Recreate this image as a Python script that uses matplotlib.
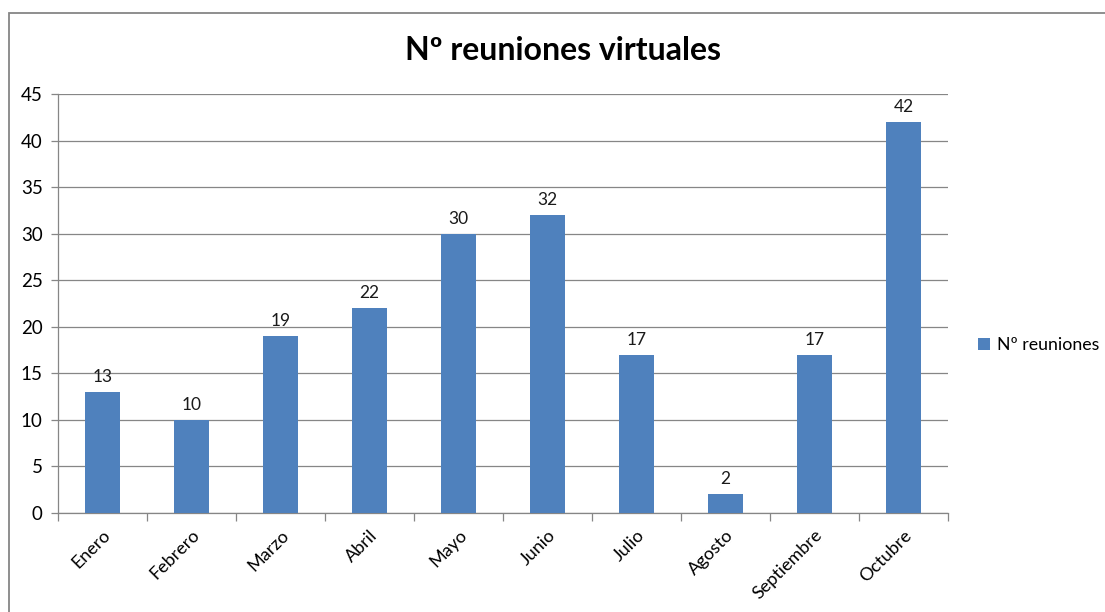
import matplotlib
matplotlib.use('Agg')
import matplotlib.pyplot as plt
from matplotlib.patches import Rectangle
import numpy as np

plt.rcParams['font.family'] = ['Lato', 'DejaVu Sans']

meses = ['Enero', 'Febrero', 'Marzo', 'Abril', 'Mayo', 'Junio', 'Julio',
         'Agosto', 'Septiembre', 'Octubre']
reuniones = [13, 10, 19, 22, 30, 32, 17, 2, 17, 42]

azul = '#4F81BD'
gris = '#868686'

fig = plt.figure(figsize=(11.05, 6.12), dpi=100)
ax = fig.add_axes([58 / 1105, 1 - 513 / 612, 890 / 1105, 419 / 612])

# marco del grafico (se sale por abajo y a la derecha)
fig.patches.append(Rectangle((9 / 1105, -0.1), 1.2, 1 - 13 / 612 + 0.1,
                             transform=fig.transFigure, fill=False,
                             edgecolor=gris, linewidth=1.3))

x = np.arange(len(meses))
barras = ax.bar(x, reuniones, width=0.4, color=azul, label='Nº reuniones', zorder=3)
ax.bar_label(barras, padding=5, fontsize=12.5, color='#1a1a1a')

ax.set_xlim(-0.5, len(meses) - 0.5)
ax.set_ylim(0, 45)
ax.set_yticks(range(0, 46, 5))
ax.yaxis.grid(True, color=gris, linewidth=0.9, zorder=0)
ax.set_axisbelow(True)

ax.set_xticks(x)
ax.set_xticklabels(meses, rotation=45, ha='right', rotation_mode='anchor', fontsize=13)
ax.tick_params(axis='x', length=0, pad=10)
ax.set_xticks(np.arange(-0.5, len(meses)), minor=True)
ax.tick_params(axis='x', which='minor', length=6, color=gris, width=0.9)
ax.tick_params(axis='y', length=5, color=gris, width=0.9, labelsize=13.5, pad=6)

for s in ['top', 'right']:
    ax.spines[s].set_visible(False)
for s in ['left', 'bottom']:
    ax.spines[s].set_color(gris)
    ax.spines[s].set_linewidth(0.9)

fig.text(563 / 1105, 1 - 50 / 612, 'Nº reuniones virtuales', ha='center', va='center',
         fontsize=23, fontweight='bold')

ax.legend(loc='center left', bbox_to_anchor=((978 - 58) / 890, (513 - 345) / 419),
          frameon=False, fontsize=12.8, borderpad=0, borderaxespad=0,
          handlelength=0.65, handleheight=0.65, handletextpad=0.4)

fig.savefig('out.png', dpi=100)
